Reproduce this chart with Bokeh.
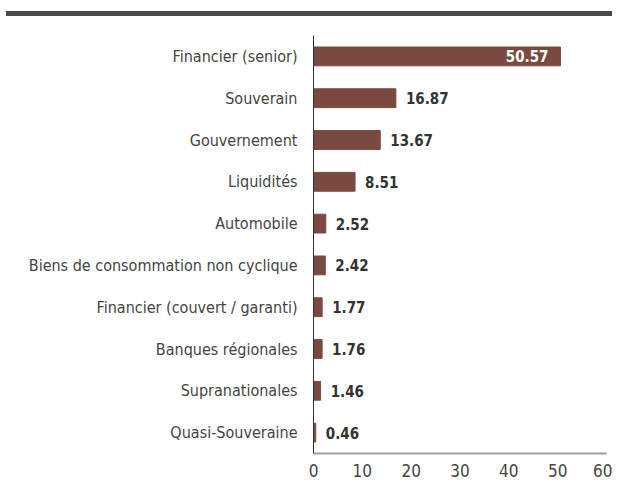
from bokeh.plotting import figure
from bokeh.models import ColumnDataSource, FixedTicker, Div
from bokeh.layouts import column
from bokeh.core.properties import value
from bokeh.embed import file_html
from bokeh.resources import INLINE

categories = ["Financier (senior)", "Souverain", "Gouvernement", "Liquidités", "Automobile",
              "Biens de consommation non cyclique", "Financier (couvert / garanti)",
              "Banques régionales", "Supranationales", "Quasi-Souveraine"]
values = [50.57, 16.87, 13.67, 8.51, 2.52, 2.42, 1.77, 1.76, 1.46, 0.46]
x_ticks = [0, 10, 20, 30, 40, 50, 60]

FONT = "DejaVu Sans Condensed"
BAR = "#7a4a40"

header = Div(text='<div style="margin-top:11px;margin-left:6px;width:606px;height:5px;background:#4a4a4a;"></div>',
             width=612, height=17, margin=0)

cats_rev = categories[::-1]
p = figure(width=612, height=462, y_range=cats_rev, x_range=(0, 60),
           output_backend="svg", toolbar_location=None, margin=0,
           min_border_left=313, min_border_right=6, min_border_top=18, min_border_bottom=22)

src = ColumnDataSource(dict(cat=categories, val=values))
p.hbar(y="cat", right="val", left=0, height=0.45, source=src, color=BAR)

inside = ColumnDataSource(dict(cat=categories[:1], val=values[:1], lbl=[f"{values[0]:.2f}"]))
outside = ColumnDataSource(dict(cat=categories[1:], val=values[1:], lbl=[f"{v:.2f}" for v in values[1:]]))
p.text(x="val", y="cat", text="lbl", source=outside, x_offset=10, text_baseline="middle",
       text_align="left", text_font=value(FONT), text_font_size="15px",
       text_font_style="bold", text_color="#333333")
p.text(x="val", y="cat", text="lbl", source=inside, x_offset=-12, text_baseline="middle",
       text_align="right", text_font=value(FONT), text_font_size="15px",
       text_font_style="bold", text_color="#ffffff")

p.grid.visible = False
p.outline_line_color = None

p.yaxis.major_tick_line_color = None
p.yaxis.minor_tick_line_color = None
p.yaxis.axis_line_color = "#333333"
p.yaxis.axis_line_width = 1
p.yaxis.major_label_standoff = 10
p.yaxis.major_label_text_font = FONT
p.yaxis.major_label_text_font_size = "16px"
p.yaxis.major_label_text_color = "#444444"

p.xaxis.ticker = FixedTicker(ticks=x_ticks)
p.xaxis.major_tick_line_color = None
p.xaxis.minor_tick_line_color = None
p.xaxis.axis_line_color = "#a0a0a0"
p.xaxis.axis_line_width = 2
p.xaxis.major_label_standoff = 4
p.xaxis.major_label_text_font = FONT
p.xaxis.major_label_text_font_size = "17px"
p.xaxis.major_label_text_color = "#444444"

layout = column(header, p, spacing=0)
open("out.html", "w").write(file_html(layout, INLINE))
